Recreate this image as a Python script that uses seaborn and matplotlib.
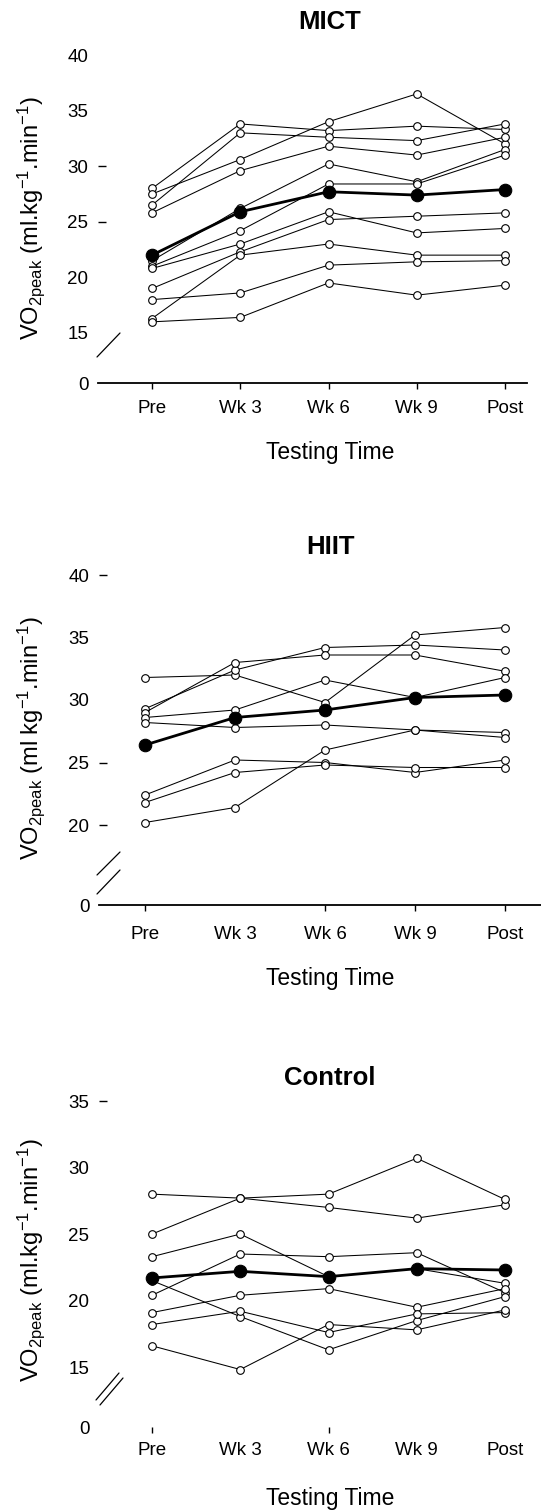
import numpy as np
import pandas as pd
import matplotlib
matplotlib.use("Agg")
import matplotlib.pyplot as plt
import seaborn as sns

# ---------------- data ----------------
times = ["Pre", "Wk 3", "Wk 6", "Wk 9", "Post"]

mict_subjects = [
    [28.0, 33.8, 33.2, 33.6, 33.3],
    [27.5, 30.6, 34.0, 36.5, 32.0],
    [26.5, 33.0, 32.6, 32.3, 33.8],
    [25.8, 29.6, 31.8, 31.0, 32.6],
    [21.5, 26.2, 30.2, 28.6, 31.5],
    [21.0, 24.2, 28.4, 28.4, 31.0],
    [20.8, 23.0, 25.9, 24.0, 24.4],
    [19.0, 22.3, 25.2, 25.5, 25.8],
    [16.3, 22.0, 23.0, 22.0, 22.0],
    [18.0, 18.6, 21.1, 21.4, 21.5],
    [16.0, 16.4, 19.5, 18.4, 19.3],
]
mict_mean = [22.0, 25.9, 27.7, 27.4, 27.9]

hiit_subjects = [
    [31.8, 32.0, 29.8, 35.2, 35.8],
    [29.3, 32.4, 34.2, 34.4, 34.0],
    [29.0, 33.0, 33.6, 33.6, 32.3],
    [28.6, 29.2, 31.6, 30.2, 31.8],
    [28.2, 27.8, 28.0, 27.6, 27.4],
    [22.4, 25.2, 25.0, 24.2, 25.2],
    [21.8, 24.2, 24.8, 24.6, 24.6],
    [20.2, 21.4, 26.0, 27.6, 27.0],
]
hiit_mean = [26.4, 28.6, 29.2, 30.2, 30.4]

control_subjects = [
    [28.0, 27.7, 27.0, 26.2, 27.2],
    [25.0, 27.7, 28.0, 30.7, 27.6],
    [23.3, 25.0, 21.8, 22.4, 21.3],
    [20.4, 23.5, 23.3, 23.6, 20.6],
    [21.5, 18.8, 16.3, 18.5, 20.3],
    [19.1, 20.4, 20.9, 19.5, 20.9],
    [18.2, 19.2, 17.6, 19.0, 19.1],
    [16.6, 14.4, 18.2, 17.8, 19.3],
]
control_mean = [21.7, 22.2, 21.8, 22.4, 22.3]

titles = ["MICT", "HIIT", "Control"]
ylabels = [
    r"VO$_{2peak}$ (ml.kg$^{-1}$.min$^{-1}$)",
    r"VO$_{2peak}$ (ml kg$^{-1}$.min$^{-1}$)",
    r"VO$_{2peak}$ (ml.kg$^{-1}$.min$^{-1}$)",
]
xlabel = "Testing Time"

# ---------------- style ----------------
sns.set_style("white")
plt.rcParams["font.family"] = ["Liberation Sans", "DejaVu Sans"]
plt.rcParams["mathtext.default"] = "regular"
for k in ["text.color", "axes.labelcolor", "xtick.color", "ytick.color"]:
    plt.rcParams[k] = "black"

W, H = 541, 1511
fig = plt.figure(figsize=(W / 100, H / 100), dpi=100)


def long_df(subjects):
    rows = []
    for i, s in enumerate(subjects):
        for j, v in enumerate(s):
            rows.append({"subject": i, "x": j, "value": v})
    return pd.DataFrame(rows)


def make_scale(lo, gap):
    def fwd(v):
        v = np.asarray(v, dtype=float)
        return np.where(v <= lo, v * gap / lo, gap + (v - lo))

    def inv(t):
        t = np.asarray(t, dtype=float)
        return np.where(t <= gap, t * lo / gap, t - gap + lo)

    return fwd, inv


layout = [
    dict(subj=mict_subjects, mean=mict_mean, left=98, right=527, top=55, bottom=383,
         ymax=40, lo=15, gap=4.5, pre=152, step=88.25,
         yticks=[0, 15, 20, 25, 30, 35, 40], ymarks=[25, 30], xmarks=[0, 1, 2, 3, 4],
         spine=True, title_y=22, xpad=8.5, xl_y=452, yl_x=31, yl_y=218,
         breaks=[((97, 357), (120, 333))]),
    dict(subj=hiit_subjects, mean=hiit_mean, left=99, right=541, top=575, bottom=905,
         ymax=40, lo=20, gap=6.4, pre=145, step=90.0,
         yticks=[0, 20, 25, 30, 35, 40], ymarks=[20, 25, 40], xmarks=[0, 2, 3, 4],
         spine=True, title_y=547, xpad=11, xl_y=978, yl_x=31, yl_y=738,
         breaks=[((97, 875), (120, 852)), ((97, 894), (120, 870))]),
    dict(subj=control_subjects, mean=control_mean, left=99, right=530, top=1101, bottom=1427,
         ymax=35, lo=15, gap=4.5, pre=152, step=88.25,
         yticks=[0, 15, 20, 25, 30, 35], ymarks=[35], xmarks=[0, 2],
         spine=False, title_y=1078, xpad=7, xl_y=1498, yl_x=31, yl_y=1260,
         breaks=[((96, 1400), (119, 1373)), ((100, 1405), (123, 1378))]),
]

for p, title, ylab in zip(layout, titles, ylabels):
    ax = fig.add_axes([p["left"] / W, 1 - p["bottom"] / H,
                       (p["right"] - p["left"]) / W, (p["bottom"] - p["top"]) / H])
    aw = p["right"] - p["left"]
    ah = p["bottom"] - p["top"]

    def ax_x(px):
        return (px - p["left"]) / aw

    def ax_y(py):
        return (p["bottom"] - py) / ah

    ax.set_yscale("function", functions=make_scale(p["lo"], p["gap"]))

    sns.lineplot(data=long_df(p["subj"]), x="x", y="value", units="subject",
                 estimator=None, color="black", lw=0.75, marker="o", markersize=5.5,
                 markerfacecolor="white", markeredgecolor="black",
                 markeredgewidth=0.8, ax=ax, legend=False)
    mdf = pd.DataFrame({"x": range(len(times)), "value": p["mean"]})
    sns.lineplot(data=mdf, x="x", y="value", color="black", lw=2.0, marker="o",
                 markersize=9, markerfacecolor="black", markeredgecolor="black",
                 markeredgewidth=0.8, ax=ax, legend=False)

    ax.set_ylim(0, p["ymax"])
    ax.set_yticks(p["yticks"])
    ax.set_yticklabels([str(t) for t in p["yticks"]])
    ax.minorticks_off()
    x0 = -(p["pre"] - p["left"]) / p["step"]
    x1 = (p["right"] - p["pre"]) / p["step"]
    ax.set_xlim(x0, x1)
    ax.set_xticks(range(len(times)))
    ax.set_xticklabels(times)

    for s in ["top", "right", "left"]:
        ax.spines[s].set_visible(False)
    ax.spines["bottom"].set_visible(p["spine"])
    ax.spines["bottom"].set_linewidth(1.3)
    ax.spines["bottom"].set_color("black")

    ax.tick_params(axis="y", direction="in", length=5.8, width=1.0, pad=7,
                   labelsize=13.5, left=True)
    ax.tick_params(axis="x", direction="out", length=4, width=1.0, pad=p["xpad"],
                   labelsize=13.5, bottom=True)
    for t, loc in zip(ax.yaxis.get_major_ticks(), p["yticks"]):
        t.tick1line.set_visible(loc in p["ymarks"])
    for t, loc in zip(ax.xaxis.get_major_ticks(), range(len(times))):
        t.tick1line.set_visible(loc in p["xmarks"])

    ax.set_title(title, fontsize=18.5, fontweight="bold", x=ax_x(330), y=ax_y(p["title_y"]),
                 va="center", pad=0)
    ax.set_xlabel(xlabel, fontsize=16.5, va="center")
    ax.xaxis.set_label_coords(ax_x(330), ax_y(p["xl_y"]))
    ax.set_ylabel(ylab, fontsize=17, va="center")
    ax.yaxis.set_label_coords(ax_x(p["yl_x"]), ax_y(p["yl_y"]))

    for (xa, ya), (xb, yb) in p["breaks"]:
        ax.plot([ax_x(xa), ax_x(xb)], [ax_y(ya), ax_y(yb)], transform=ax.transAxes,
                color="black", lw=0.9, clip_on=False)

fig.savefig("out.png", dpi=100)
